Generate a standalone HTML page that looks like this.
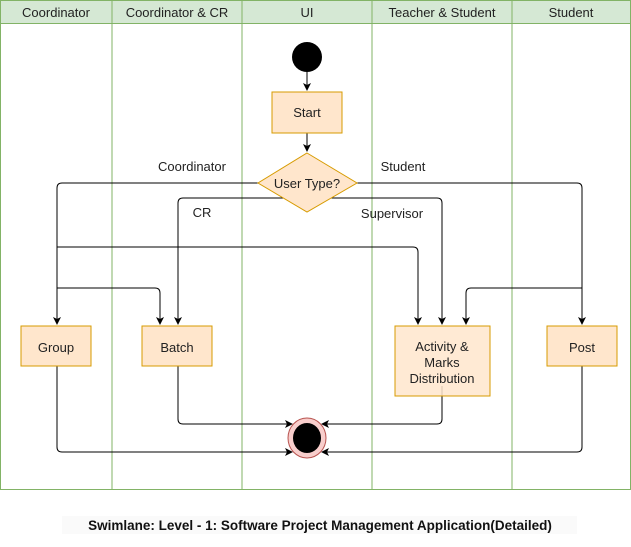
<!DOCTYPE html>
<html><head><style>body{margin:0;background:#fff}</style></head><body>
<svg width="631" height="542" xmlns="http://www.w3.org/2000/svg" font-family="Liberation Sans, sans-serif">
<defs><marker id="a" markerWidth="8" markerHeight="8" refX="7" refY="4" orient="auto" markerUnits="userSpaceOnUse"><path d="M0,0 L8,4 L0,8 L2,4z" fill="#000"/></marker></defs>
<rect x="0.5" y="0.5" width="630" height="489" fill="#fff" stroke="#82b366"/>
<rect x="0.5" y="0.5" width="630" height="23" fill="#d5e8d4" stroke="#82b366"/>
<g stroke="#82b366"><line x1="112" y1="0" x2="112" y2="490"/><line x1="242" y1="0" x2="242" y2="490"/><line x1="372" y1="0" x2="372" y2="490"/><line x1="512" y1="0" x2="512" y2="490"/></g>
<g font-size="13" fill="#222" text-anchor="middle"><text x="56" y="17">Coordinator</text><text x="177" y="17">Coordinator &amp; CR</text><text x="307" y="17">UI</text><text x="442" y="17">Teacher &amp; Student</text><text x="571" y="17">Student</text></g>
<g fill="none" stroke="#000" stroke-width="1">
<path d="M307 72 V90" marker-end="url(#a)"/>
<path d="M307 133 V151" marker-end="url(#a)"/>
<path d="M258 183 H62 Q57 183 57 188 V324" marker-end="url(#a)"/>
<path d="M357 183 H577 Q582 183 582 188 V324" marker-end="url(#a)"/>
<path d="M300 198 H183 Q178 198 178 203 V324" marker-end="url(#a)"/>
<path d="M314 198 H437 Q442 198 442 203 V324" marker-end="url(#a)"/>
<path d="M57 247 H413 Q418 247 418 252 V324" marker-end="url(#a)"/>
<path d="M57 288 H155 Q160 288 160 293 V324" marker-end="url(#a)"/>
<path d="M582 288 H471 Q466 288 466 293 V324" marker-end="url(#a)"/>
<path d="M178 366 V419 Q178 424 183 424 H292" marker-end="url(#a)"/>
<path d="M442 386 V419 Q442 424 437 424 H322" marker-end="url(#a)"/>
<path d="M57 366 V447 Q57 452 62 452 H292" marker-end="url(#a)"/>
<path d="M582 366 V447 Q582 452 577 452 H322" marker-end="url(#a)"/>
</g>
<circle cx="307" cy="57" r="15" fill="#000"/>
<g fill="#ffe6cc" stroke="#d79b00">
<rect x="272" y="92" width="70" height="41"/>
<path d="M307 153 L357 183 L307 212 L258 183Z"/>
<rect x="21" y="326" width="70" height="40"/>
<rect x="142" y="326" width="70" height="40"/>
<rect x="395" y="326" width="95" height="70" fill-opacity="0.85"/>
<rect x="547" y="326" width="70" height="40"/>
</g>
<g font-size="13" fill="#222" text-anchor="middle">
<text x="307" y="117">Start</text><text x="307" y="188">User Type?</text>
<text x="56" y="352">Group</text><text x="177" y="352">Batch</text>
<text x="442" y="351">Activity &amp;</text><text x="442" y="367">Marks</text><text x="442" y="383">Distribution</text>
<text x="582" y="352">Post</text>
<text x="192" y="171">Coordinator</text><text x="403" y="171">Student</text>
<text x="202" y="217">CR</text><text x="392" y="218">Supervisor</text>
</g>
<ellipse cx="307" cy="438" rx="19" ry="20" fill="#f8cecc" stroke="#b85450"/>
<ellipse cx="307" cy="438" rx="14" ry="15" fill="#000"/>
<rect x="62" y="516" width="515" height="18" fill="#fafafa"/>
<text x="320" y="530" font-size="13.5" font-weight="bold" text-anchor="middle" fill="#111">Swimlane: Level - 1: Software Project Management Application(Detailed)</text>
</svg>
</body></html>
